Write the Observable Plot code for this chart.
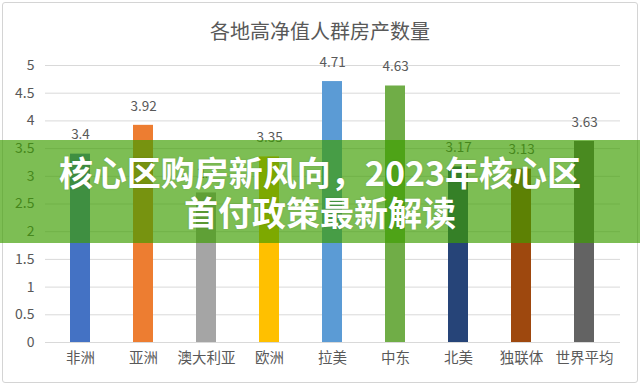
<!DOCTYPE html>
<html>
<head>
<meta charset="utf-8">
<script src="https://cdn.jsdelivr.net/npm/d3@7"></script>
<script src="https://cdn.jsdelivr.net/npm/@observablehq/plot@0.6"></script>
<style>
  html, body { margin: 0; padding: 0; background: #fff; }
  #wrap { position: relative; width: 640px; height: 385px; overflow: hidden; background: #fff; }
  #frame { position: absolute; left: 2px; top: 2px; right: 2px; bottom: 2px; border: 1px solid #d4d4d4; border-radius: 3px; pointer-events: none; }
  #title { position: absolute; left: 0; width: 640px; top: 16px; text-align: center;
           font-family: "Noto Sans CJK SC", "Noto Sans", sans-serif; font-size: 20px; color: #595959; font-weight: 400; }
  #chart { position: absolute; left: 0; top: 0; }
  #banner { position: absolute; left: 0; top: 140px; width: 640px; height: 103px;
            background: rgba(61,158,0,0.67); color: #fff; text-align: center;
            font-family: "Noto Sans CJK SC", sans-serif; font-weight: 700; font-size: 34px; line-height: 40px;
            box-sizing: border-box; padding-top: 12px; text-shadow: 0 0 2px rgba(0,0,0,0.15); }
</style>
</head>
<body>
<div id="wrap">
  <div id="chart"></div>
  <div id="title">各地高净值人群房产数量</div>
  <div id="frame"></div>
  <div id="banner">核心区购房新风向，2023年核心区<br>首付政策最新解读</div>
</div>
<script>
const categories = ["非洲", "亚洲", "澳大利亚", "欧洲", "拉美", "中东", "北美", "独联体", "世界平均"];
const values = [3.4, 3.92, 2.7, 3.35, 4.71, 4.63, 3.17, 3.13, 3.63];
const colors = ["#4472C4", "#ED7D31", "#A5A5A5", "#FFC000", "#5B9BD5", "#70AD47", "#264478", "#9E480E", "#636363"];
const yTicks = [0, 0.5, 1, 1.5, 2, 2.5, 3, 3.5, 4, 4.5, 5];

const data = categories.map((c, i) => ({category: c, value: values[i], color: colors[i]}));

const chart = Plot.plot({
  width: 640,
  height: 385,
  marginTop: 65,
  marginBottom: 43,
  marginLeft: 45,
  marginRight: 20,
  style: {fontFamily: "'Noto Sans CJK SC', 'Liberation Sans', sans-serif", color: "#595959", background: "transparent"},
  x: {domain: categories, paddingInner: 0.68, paddingOuter: 0.34, label: null},
  y: {domain: [0, 5], ticks: yTicks, label: null},
  marks: [
    Plot.ruleY(yTicks, {stroke: "#d9d9d9", strokeWidth: 1}),
    Plot.barY(data, {x: "category", y: "value", fill: "color"}),
    Plot.text(data, {x: "category", y: "value", text: d => String(d.value), dy: -19, fontSize: 13.5, fill: "#595959"}),
    Plot.axisY({ticks: yTicks, tickSize: 0, tickPadding: 11, fontSize: 14, tickFormat: d => String(d), fill: "#595959"}),
    Plot.axisX({tickSize: 0, tickPadding: 10, fontSize: 14.5, fill: "#595959"})
  ]
});
document.getElementById("chart").appendChild(chart);
</script>
</body>
</html>
